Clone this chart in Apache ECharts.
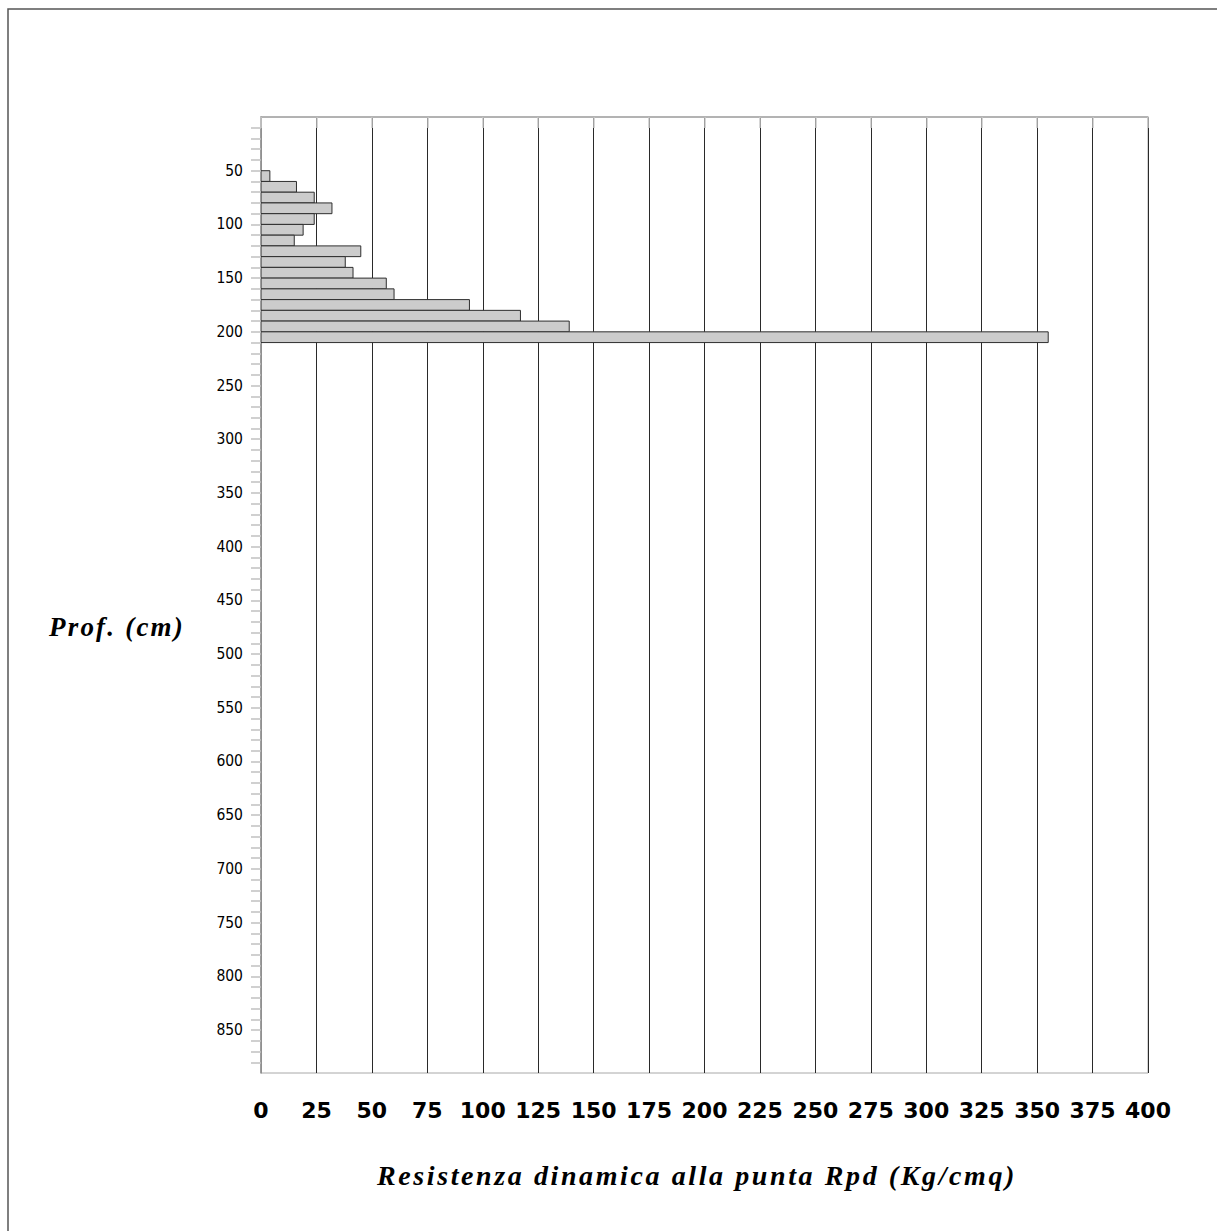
<!DOCTYPE html>
<html>
<head>
<meta charset="utf-8">
<script src="https://cdn.jsdelivr.net/npm/echarts@6/dist/echarts.min.js"></script>
<style>
  html, body { margin: 0; padding: 0; background: #fff; }
  #chart { width: 1217px; height: 1231px; }
</style>
</head>
<body>
<div id="chart"></div>
<script>
// Dynamic penetrometer test: each bar is one 10 cm depth step.
const depthFrom = [50, 60, 70, 80, 90, 100, 110, 120, 130, 140, 150, 160, 170, 180, 190, 200];
const depthTo   = [60, 70, 80, 90, 100, 110, 120, 130, 140, 150, 160, 170, 180, 190, 200, 210];
const rpd       = [4, 16, 24, 32, 24, 19, 15, 45, 38, 41.5, 56.5, 60, 94, 117, 139, 355];

// Axis ranges and tick steps
const depthRange = [0, 890];
const depthStep = 10;
const depthLabelStep = 50;
const rpdRange = [0, 400];
const rpdStep = 25;

const yTitle = 'Prof. (cm)';
const xTitle = 'Resistenza dinamica alla punta Rpd (Kg/cmq)';

const bars = rpd.map((v, i) => [v, depthFrom[i], depthTo[i]]);

const nSplit = (rpdRange[1] - rpdRange[0]) / rpdStep + 1;
const splitColors = Array.from({ length: nSplit }, (_, i) => (i === 0 ? '#9a9a9a' : '#2a2a2a'));

const chart = echarts.init(document.getElementById('chart'), null, { renderer: 'svg' });

chart.setOption({
  animation: false,
  backgroundColor: '#ffffff',
  grid: {
    left: 261, top: 117, right: 69, bottom: 158,
    show: true, borderColor: '#a8a8a8', borderWidth: 1
  },
  xAxis: {
    type: 'value',
    min: rpdRange[0], max: rpdRange[1], interval: rpdStep,
    position: 'bottom',
    axisLine: { show: true, lineStyle: { color: '#a8a8a8', width: 1.5 } },
    axisTick: { show: true, length: 11, lineStyle: { color: '#c8c8c8', width: 1.5 } },
    axisLabel: {
      margin: 26,
      color: '#000',
      fontFamily: '"DejaVu Sans", sans-serif',
      fontWeight: 'bold',
      fontSize: 22
    },
    splitLine: { show: true, lineStyle: { color: splitColors, width: 1 } }
  },
  yAxis: {
    type: 'value',
    inverse: true,
    min: depthRange[0], max: depthRange[1], interval: depthStep,
    axisLine: { show: true, lineStyle: { color: '#8c8c8c', width: 1.5 } },
    axisTick: { show: true, inside: false, length: 10, lineStyle: { color: '#c0c0c0', width: 1.5 } },
    axisLabel: {
      margin: 18,
      color: '#000',
      fontFamily: '"DejaVu Sans Condensed", "DejaVu Sans", sans-serif',
      fontSize: 15.5,
      padding: [0, 0, 8, 0],
      showMinLabel: false,
      showMaxLabel: false,
      formatter: (v) => (v > 0 && v % depthLabelStep === 0 ? String(v) : '')
    },
    splitLine: { show: false }
  },
  graphic: [
    {
      type: 'rect', z: -10, silent: true,
      shape: { x: 8, y: 9, width: 1400, height: 1400 },
      style: { fill: 'none', stroke: '#555', lineWidth: 1.5 }
    },
    {
      type: 'text', x: 49, y: 627,
      style: {
        text: yTitle,
        fill: '#000',
        align: 'left',
        verticalAlign: 'middle',
        font: 'italic bold 27px "Liberation Serif", "Times New Roman", serif'
      }
    },
    {
      type: 'text', x: 697, y: 1175,
      style: {
        text: xTitle,
        fill: '#000',
        align: 'center',
        verticalAlign: 'middle',
        font: 'italic bold 28px "Liberation Serif", "Times New Roman", serif'
      }
    }
  ],
  series: [
    {
      type: 'custom',
      data: bars,
      encode: { x: 0, y: [1, 2] },
      clip: true,
      renderItem: function (params, api) {
        const v = api.value(0);
        const a = api.value(1);
        const b = api.value(2);
        const p0 = api.coord([0, a]);
        const p1 = api.coord([v, b]);
        return {
          type: 'rect',
          shape: { x: p0[0], y: p0[1], width: p1[0] - p0[0], height: p1[1] - p0[1] },
          style: { fill: '#cccccc', stroke: '#2e2e2e', lineWidth: 1 }
        };
      }
    }
  ]
});

// Spread the title lettering like the printed report sheet
function spreadTitles() {
  document.querySelectorAll('#chart svg text').forEach((t) => {
    const s = t.textContent;
    if (s === yTitle) t.setAttribute('letter-spacing', '2.2');
    else if (s === xTitle) t.setAttribute('letter-spacing', '2.6');
  });
}
chart.on('finished', spreadTitles);
spreadTitles();
</script>
</body>
</html>
